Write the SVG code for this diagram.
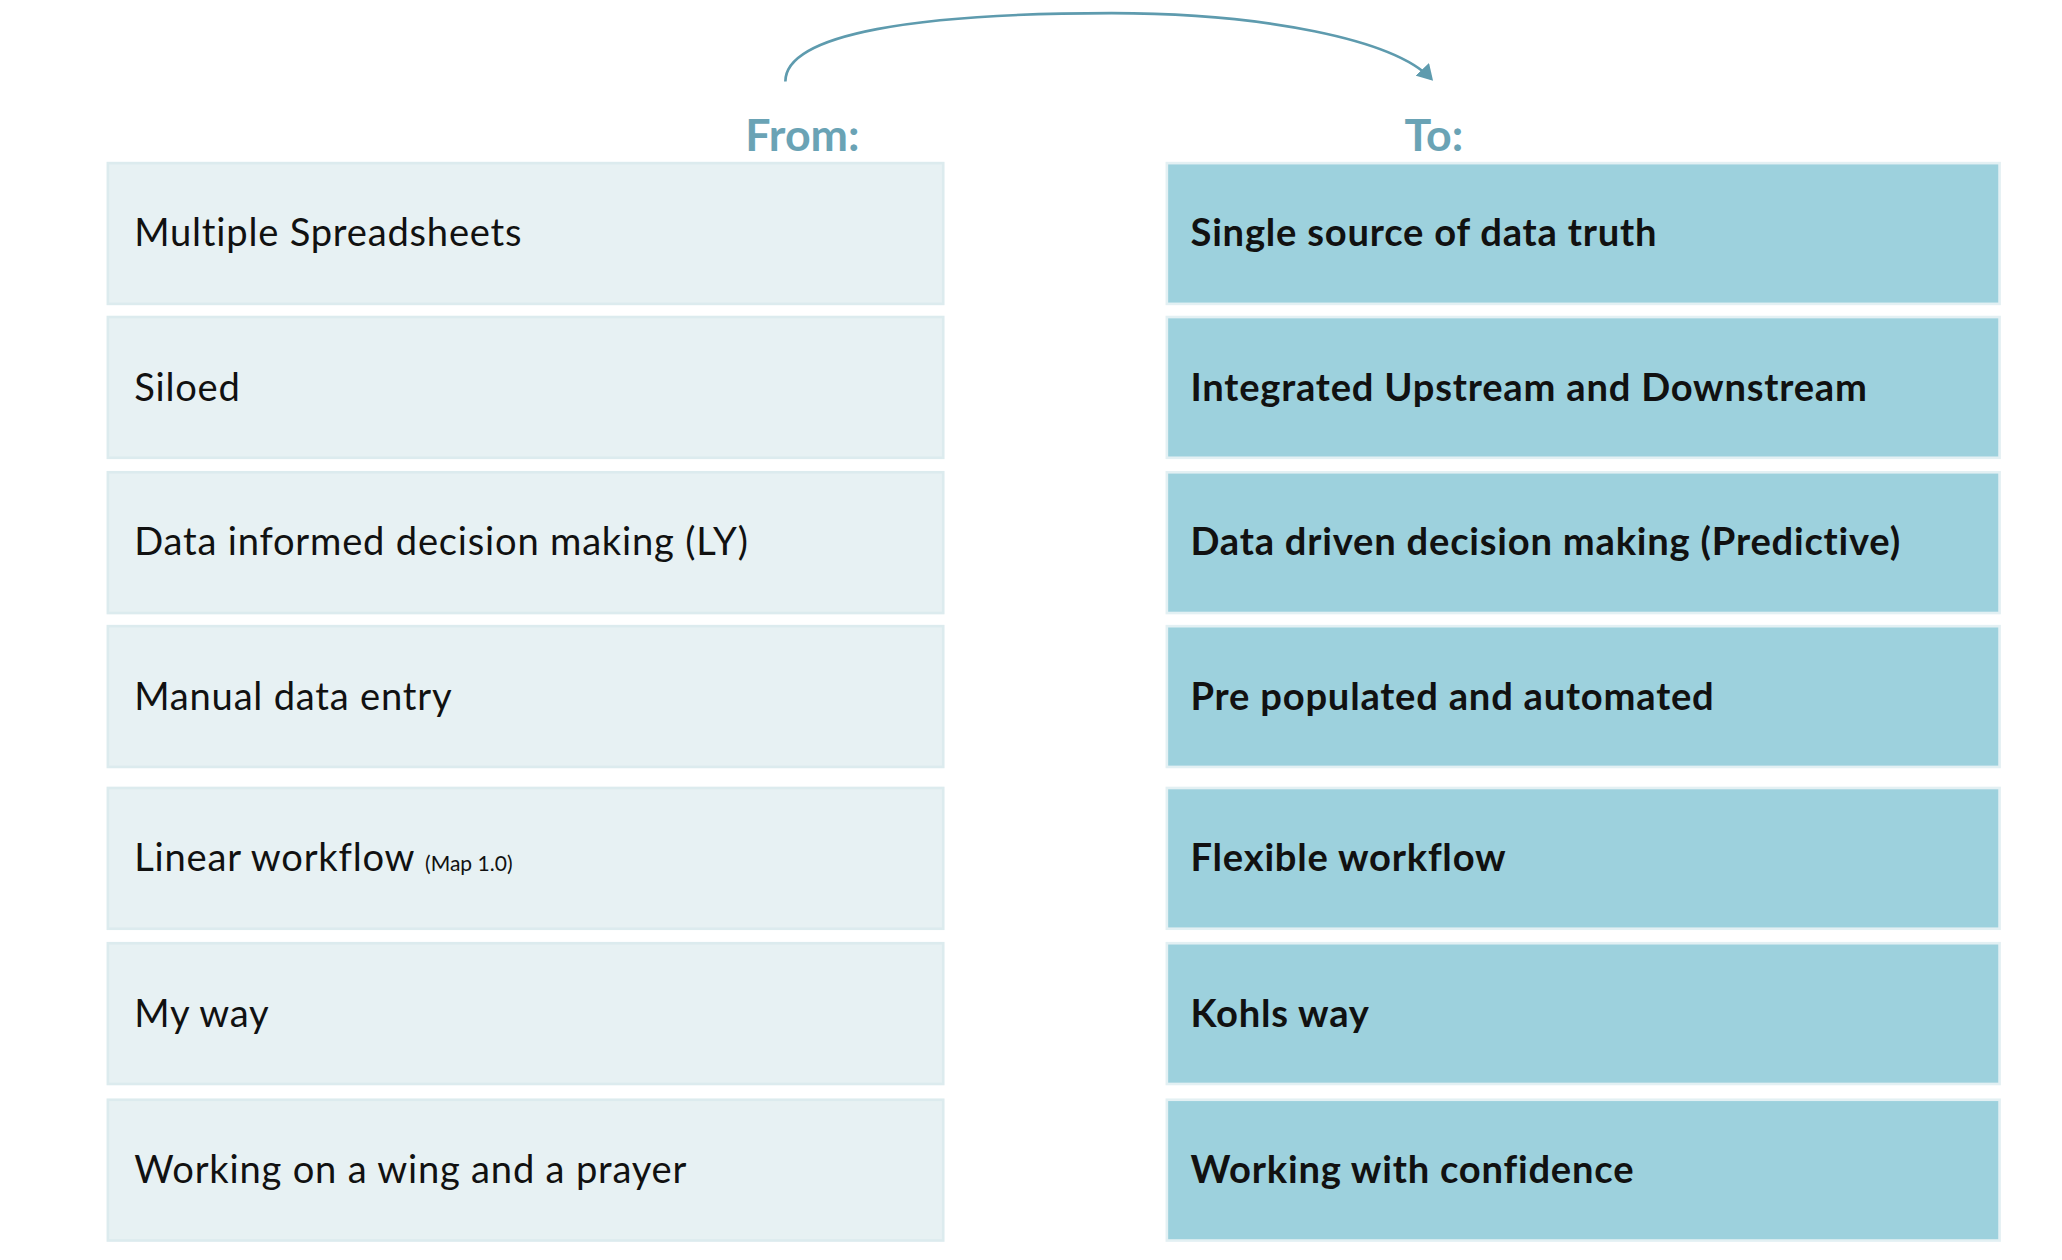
<svg xmlns="http://www.w3.org/2000/svg" width="2062" height="1260" viewBox="0 0 2062 1260">
<style>
.l{fill:#E7F1F3;stroke:#DCEBEE;stroke-width:2}
.r{fill:#9DD1DD;stroke:#E3F0F3;stroke-width:2}
.tl{font-family:Lato,"Noto Sans",sans-serif;font-size:29px;letter-spacing:0.6px;fill:#111}
.tr{font-family:Lato,"Noto Sans",sans-serif;font-size:29px;letter-spacing:0.6px;font-weight:bold;fill:#111}
.h{font-family:Lato,"Noto Sans",sans-serif;font-size:34px;font-weight:bold;fill:#6AA3B5;text-anchor:middle}
</style>
<defs><marker id="a" markerWidth="14" markerHeight="14" refX="10" refY="7" orient="auto" markerUnits="userSpaceOnUse"><path d="M0,0 L12,7 L0,14 Z" fill="#5E9BAE"/></marker></defs>
<rect width="2062" height="1260" fill="#fff"/>
<g transform="scale(1.3155)">
<g id="connectors"><path d="M597,62 C597,25 700,10 845,10 C960,10 1060,30 1088,60" fill="none" stroke="#5E9BAE" stroke-width="2" marker-end="url(#a)"/></g>
<g id="hFrom"><text class="h" x="610" y="115">From:</text></g>
<g id="hTo"><text class="h" x="1090" y="115">To:</text></g>
<g id="l1"><rect class="l" x="82" y="124" width="635" height="107"/><text class="tl" x="102" y="187">Multiple Spreadsheets</text></g>
<g id="l2"><rect class="l" x="82" y="241" width="635" height="107"/><text class="tl" x="102" y="305">Siloed</text></g>
<g id="l3"><rect class="l" x="82" y="359" width="635" height="107"/><text class="tl" x="102" y="422">Data informed decision making (LY)</text></g>
<g id="l4"><rect class="l" x="82" y="476" width="635" height="107"/><text class="tl" x="102" y="540">Manual data entry</text></g>
<g id="l5"><rect class="l" x="82" y="599" width="635" height="107"/><text class="tl" x="102" y="662">Linear workflow <tspan font-size="16" letter-spacing="0">(Map 1.0)</tspan></text></g>
<g id="l6"><rect class="l" x="82" y="717" width="635" height="107"/><text class="tl" x="102" y="781">My way</text></g>
<g id="l7"><rect class="l" x="82" y="836" width="635" height="107"/><text class="tl" x="102" y="899">Working on a wing and a prayer</text></g>
<g id="r1"><rect class="r" x="887" y="124" width="633" height="107"/><text class="tr" x="905" y="187">Single source of data truth</text></g>
<g id="r2"><rect class="r" x="887" y="241" width="633" height="107"/><text class="tr" x="905" y="305">Integrated Upstream and Downstream</text></g>
<g id="r3"><rect class="r" x="887" y="359" width="633" height="107"/><text class="tr" x="905" y="422">Data driven decision making (Predictive)</text></g>
<g id="r4"><rect class="r" x="887" y="476" width="633" height="107"/><text class="tr" x="905" y="540">Pre populated and automated</text></g>
<g id="r5"><rect class="r" x="887" y="599" width="633" height="107"/><text class="tr" x="905" y="662">Flexible workflow</text></g>
<g id="r6"><rect class="r" x="887" y="717" width="633" height="107"/><text class="tr" x="905" y="781">Kohls way</text></g>
<g id="r7"><rect class="r" x="887" y="836" width="633" height="107"/><text class="tr" x="905" y="899">Working with confidence</text></g>
</g>
</svg>
